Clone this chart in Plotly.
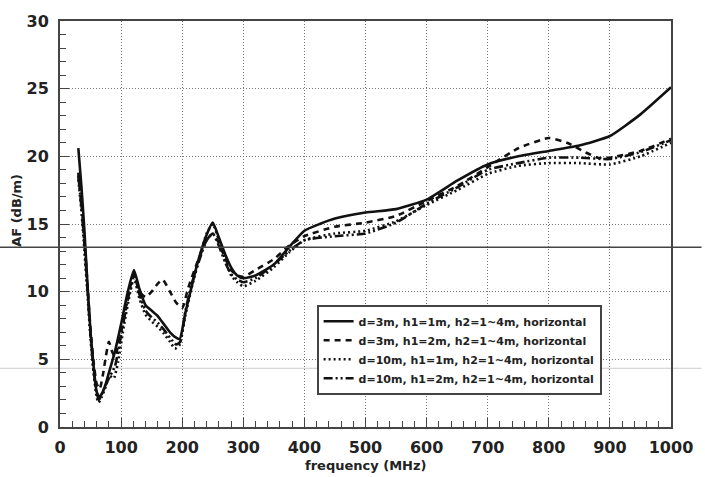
import plotly.graph_objects as go

# ---- data ----
f_s1 = [30, 35, 40, 45, 50, 55, 60, 65, 70, 75, 80, 90, 100, 110, 121, 130, 140, 150, 160, 170, 180, 190, 196,
        205, 215, 225, 240, 250, 260, 270, 280, 290, 300, 320, 350, 375, 400, 425, 450, 500, 550, 600, 650,
        700, 750, 800, 850, 900, 950, 1000]
af_s1 = [20.6, 17.8, 14.5, 10.5, 7.0, 4.5, 2.6, 2.2, 2.6, 3.2, 4.0, 5.6, 7.6, 9.8, 11.6, 10.2, 9.0, 8.6, 8.2, 7.6,
         7.0, 6.6, 6.5, 8.4, 10.3, 12.1, 14.2, 15.1, 14.0, 12.8, 11.8, 11.2, 11.0, 11.2, 12.0, 13.3, 14.5, 15.0,
         15.4, 15.85, 16.1, 16.8, 18.2, 19.4, 20.0, 20.4, 20.8, 21.5, 23.1, 25.1]

f_s2 = [30, 35, 40, 45, 50, 55, 60, 65, 70, 75, 80, 85, 90, 100, 110, 121, 130, 140, 150, 160, 168, 180, 190, 200,
        210, 225, 240, 250, 260, 270, 280, 290, 300, 320, 350, 375, 400, 450, 500, 550, 600, 650, 700, 750,
        800, 830, 860, 880, 900, 950, 1000]
af_s2 = [18.8, 16.5, 13.8, 10.5, 7.2, 4.8, 3.2, 2.8, 3.8, 5.2, 6.3, 5.6, 5.2, 7.0, 9.4, 11.2, 10.0, 9.6, 10.0,
         10.6, 10.9, 10.0, 9.2, 8.8, 10.3, 12.2, 13.8, 14.3, 13.6, 12.5, 11.6, 11.2, 11.1, 11.6, 12.4, 13.4,
         14.1, 14.8, 15.1, 15.6, 16.7, 17.8, 19.2, 20.6, 21.35, 21.0, 20.3, 19.9, 19.9, 20.4, 21.3]

f_s3 = [30, 35, 40, 45, 50, 55, 60, 63, 68, 75, 80, 88, 95, 105, 115, 121, 130, 140, 150, 160, 170, 180, 188, 195,
        205, 215, 230, 240, 250, 260, 270, 280, 290, 300, 320, 350, 375, 400, 450, 500, 550, 600, 650, 700,
        750, 800, 850, 900, 950, 1000]
af_s3 = [18.3, 16.0, 13.0, 9.8, 6.5, 4.0, 2.2, 1.8, 2.2, 3.0, 3.8, 3.6, 4.8, 7.6, 10.0, 11.0, 9.5, 8.3, 7.8, 7.4,
         6.9, 6.3, 5.8, 6.0, 8.2, 10.2, 12.8, 14.3, 15.0, 13.8, 12.4, 11.2, 10.7, 10.4, 10.8, 11.8, 12.9, 13.8,
         14.3, 14.5, 15.2, 16.4, 17.5, 18.7, 19.3, 19.5, 19.5, 19.4, 20.0, 21.0]

f_s4 = [30, 35, 40, 45, 50, 55, 60, 64, 70, 80, 90, 100, 110, 121, 130, 140, 150, 160, 170, 180, 190, 197, 205,
        215, 230, 240, 250, 260, 270, 280, 290, 300, 320, 350, 375, 400, 450, 500, 550, 600, 650, 700, 750,
        800, 850, 900, 950, 1000]
af_s4 = [18.6, 16.3, 13.5, 10.2, 6.8, 4.2, 2.5, 2.0, 2.6, 3.6, 4.5, 6.8, 9.2, 11.3, 9.8, 8.6, 8.1, 7.7, 7.2, 6.6,
         6.1, 6.3, 8.5, 10.5, 12.6, 13.8, 14.3, 13.4, 12.2, 11.3, 10.9, 10.7, 11.0, 12.0, 13.0, 13.8, 14.1,
         14.3, 15.1, 16.5, 17.7, 19.0, 19.5, 19.9, 19.9, 19.8, 20.3, 21.2]

names = ["d=3m, h1=1m, h2=1~4m, horizontal",
         "d=3m, h1=2m, h2=1~4m, horizontal",
         "d=10m, h1=1m, h2=1~4m, horizontal",
         "d=10m, h1=2m, h2=1~4m, horizontal"]

x_ticks = [0, 100, 200, 300, 400, 500, 600, 700, 800, 900, 1000]
y_ticks = [0, 5, 10, 15, 20, 25, 30]

FONT = "DejaVu Sans"
series = [(f_s1, af_s1, "solid"), (f_s2, af_s2, "6px,5px"),
          (f_s3, af_s3, "2px,3px"), (f_s4, af_s4, "9px,3px,2px,3px,2px,3px")]

fig = go.Figure()
for (fx, fy, dash), nm in zip(series, names):
    fig.add_trace(go.Scatter(x=fx, y=fy, mode="lines", name=nm,
                             line=dict(color="#111111", width=2.6, dash=dash, shape="spline", smoothing=0.5)))

axis_common = dict(showline=True, linecolor="#444444", linewidth=2, mirror=True,
                   showgrid=True, gridcolor="#777777", griddash="1px,2px", gridwidth=1,
                   ticks="inside", ticklen=9, tickwidth=1, tickcolor="#444444",
                   tickfont=dict(family=FONT, size=16, color="#222222", weight="bold"),
                   zeroline=False)

fig.update_xaxes(range=[0, 1000], tickvals=x_ticks, ticktext=[str(v) for v in x_ticks],
                 minor=dict(dtick=20, ticks="inside", ticklen=6, tickcolor="#444444", showgrid=False),
                 ticklabelstandoff=5, **axis_common)
fig.update_yaxes(range=[0, 30], tickvals=y_ticks, ticktext=[str(v) for v in y_ticks],
                 minor=dict(dtick=1, ticks="inside", ticklen=6, tickcolor="#444444", showgrid=False),
                 ticklabelstandoff=6, **axis_common)

# scan artifact lines
fig.add_shape(type="line", xref="paper", yref="y", x0=-0.1, x1=1.05, y0=13.28, y1=13.28,
              line=dict(color="#444444", width=1.5), layer="above")
fig.add_shape(type="line", xref="paper", yref="y", x0=-0.1, x1=1.05, y0=4.34, y1=4.34,
              line=dict(color="#cccccc", width=1), layer="below")

fig.add_annotation(text="frequency (MHz)", xref="paper", yref="paper", x=0.5, y=-0.118,
                   xanchor="center", yanchor="bottom", showarrow=False,
                   font=dict(family=FONT, size=13, color="#222222", weight="bold"))
fig.add_annotation(text="AF (dB/m)", xref="paper", yref="paper", x=-0.071, y=0.534,
                   xanchor="center", yanchor="middle", textangle=-90, showarrow=False,
                   font=dict(family=FONT, size=13, color="#222222", weight="bold"))

fig.update_layout(width=705, height=477, margin=dict(l=60, r=24, t=12, b=50),
                  paper_bgcolor="white", plot_bgcolor="white",
                  legend=dict(x=0.420, y=0.301, xanchor="left", yanchor="top",
                              bgcolor="white", bordercolor="#444444", borderwidth=2,
                              font=dict(family=FONT, size=11, color="#222222", weight="bold"),
                              tracegroupgap=0))

fig.write_html("out.html")
